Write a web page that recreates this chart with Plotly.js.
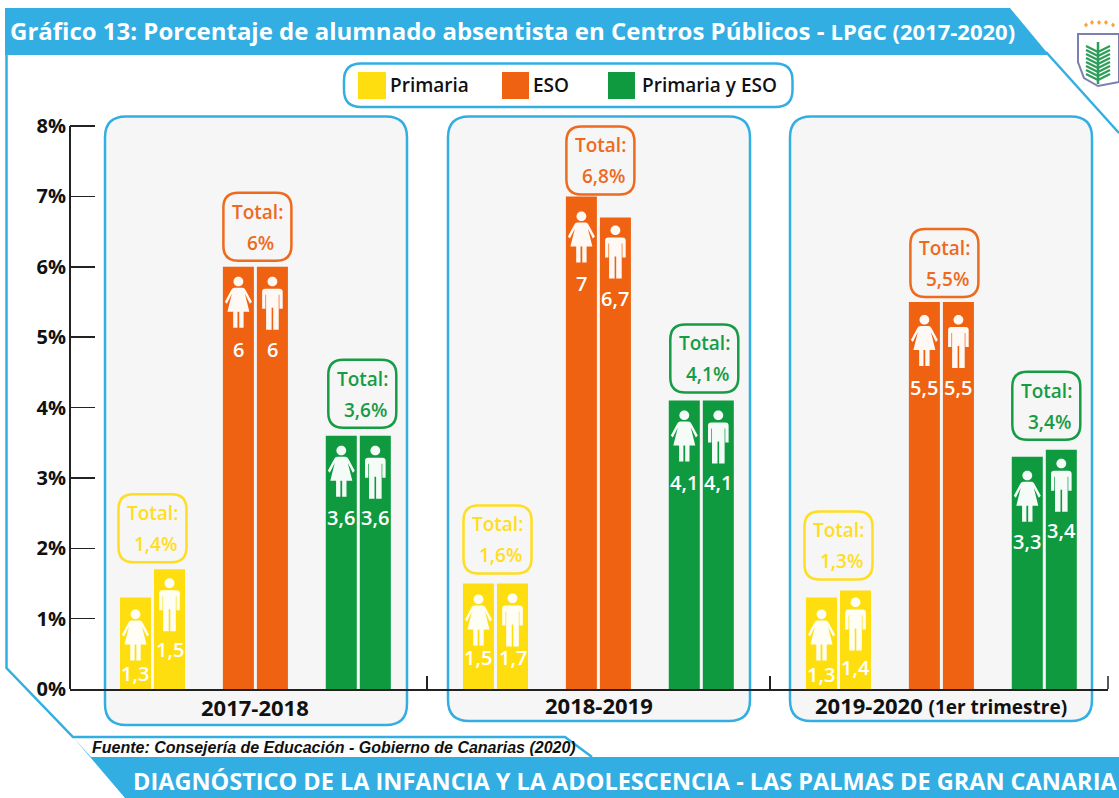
<!DOCTYPE html>
<html lang="es">
<head>
<meta charset="utf-8">
<script src="https://cdn.plot.ly/plotly-3.0.1.min.js"></script>
<style>html,body{margin:0;padding:0;background:#fff}#chart{width:1119px;height:798px}</style>
</head>
<body>
<div id="chart"></div>
<script>
// ---------- data ----------
const years = ['2017-2018', '2018-2019', '2019-2020 <span style="font-size:19px">(1er trimestre)</span>'];
const levels = ['Primaria', 'ESO', 'Primaria y ESO'];
const primariaMujeres = [1.3, 1.5, 1.3];
const primariaHombres = [1.7, 1.5, 1.4];
const esoMujeres = [6, 7, 5.5];
const esoHombres = [6, 6.7, 5.5];
const ambosMujeres = [3.6, 4.1, 3.3];
const ambosHombres = [3.6, 4.1, 3.4];
const primariaMujeresLabels = ['1,3', '1,5', '1,3'];
const primariaHombresLabels = ['1,5', '1,7', '1,4'];
const esoMujeresLabels = ['6', '7', '5,5'];
const esoHombresLabels = ['6', '6,7', '5,5'];
const ambosMujeresLabels = ['3,6', '4,1', '3,3'];
const ambosHombresLabels = ['3,6', '4,1', '3,4'];
const primariaTotals = ['1,4%', '1,6%', '1,3%'];
const esoTotals = ['6%', '6,8%', '5,5%'];
const ambosTotals = ['3,6%', '4,1%', '3,4%'];
const yTicks = [0, 1, 2, 3, 4, 5, 6, 7, 8];
const yTickLabels = ['0%', '1%', '2%', '3%', '4%', '5%', '6%', '7%', '8%'];

// ---------- styling / layout constants ----------
const BLUE = '#33AEE3', YELLOW = '#FFDE10', ORANGE = '#EE6211', GREEN = '#0F9A40', PANEL = '#F6F6F6', INK = '#111111';
const levelColors = [YELLOW, ORANGE, GREEN];
const boxColors = ['#FFDD22', '#EE6A1E', '#169C45'];
const FONT = '"Open Sans", "Noto Sans", sans-serif';
const W = 1119, H = 798, L = 70, R = 1108, T = 119, B = 689;
const U = 34.3, X0 = 152.5;              // px per x unit, px of first slot
const GROUP_STEP = 10, LEVEL_STEP = 3;
const BAR_W = 0.904, OFF_F = -0.948, OFF_M = 0.044;
const slot = (g, l) => g * GROUP_STEP + l * LEVEL_STEP;
const px = X => (X - L) / (R - L);
const py = Y => (B - Y) / (B - T);

const series = [
  {name: levels[0], l: 0, f: primariaMujeres, m: primariaHombres, fl: primariaMujeresLabels, ml: primariaHombresLabels, tot: primariaTotals},
  {name: levels[1], l: 1, f: esoMujeres, m: esoHombres, fl: esoMujeresLabels, ml: esoHombresLabels, tot: esoTotals},
  {name: levels[2], l: 2, f: ambosMujeres, m: ambosHombres, fl: ambosMujeresLabels, ml: ambosHombresLabels, tot: ambosTotals}
];

// per-level, per-year pixel placement of decorations relative to bar tops
const labelDropF = [[76, 74, 77], [83, 87, 86], [82, 82, 85]];
const labelDropM = [[80, 74, 77], [83, 81, 86], [82, 82, 81]];
const iconDropF = [[12, 11, 12], [10, 15, 13], [10, 10, 14]];
const iconDropM = [[9, 10, 7], [10, 8, 13], [10, 10, 9]];
const boxGap = [[7, 10, 11], [6, 2, 5], [8, 8, 10]];
const boxShift = [[0, 2, 0], [2, 2, 3], [4, 3, 2]];

const traces = [];
series.forEach(s => {
  const xs = years.map((_, g) => slot(g, s.l));
  traces.push({type: 'bar', name: s.name + ' - Mujeres', x: xs, y: s.f, width: BAR_W, offset: OFF_F,
    marker: {color: levelColors[s.l], line: {width: 0}}, showlegend: false});
  traces.push({type: 'bar', name: s.name + ' - Hombres', x: xs, y: s.m, width: BAR_W, offset: OFF_M,
    marker: {color: levelColors[s.l], line: {width: 0}}, showlegend: false});
});

// ---------- shapes ----------
const shapes = [];
const ann = [];

// shape positioned in absolute page pixels
function pagePath(fn, opts) {
  const map = (X, Y) => (X - L).toFixed(1) + ',' + (T - Y).toFixed(1);
  shapes.push(Object.assign({type: 'path', xref: 'paper', yref: 'paper', xsizemode: 'pixel', ysizemode: 'pixel',
    xanchor: 0, yanchor: 1, path: fn(map), layer: 'below', line: {width: 0}}, opts));
}
function roundRect(x0, y0, x1, y1, r, opts) {
  pagePath(m => 'M' + m(x0 + r, y0) + ' L' + m(x1 - r, y0) + ' Q' + m(x1, y0) + ' ' + m(x1, y0 + r) +
    ' L' + m(x1, y1 - r) + ' Q' + m(x1, y1) + ' ' + m(x1 - r, y1) + ' L' + m(x0 + r, y1) +
    ' Q' + m(x0, y1) + ' ' + m(x0, y1 - r) + ' L' + m(x0, y0 + r) + ' Q' + m(x0, y0) + ' ' + m(x0 + r, y0) + ' Z', opts);
}
function poly(points, opts, close) {
  pagePath(m => points.map((p, i) => (i ? 'L' : 'M') + m(p[0], p[1])).join(' ') + (close ? ' Z' : ''), opts);
}

// frame and banners
poly([[6.5, 50], [6.5, 668], [73, 737], [565, 737], [592, 757]], {line: {color: BLUE, width: 2.5}});
poly([[1046, 52], [1119, 133]], {line: {color: BLUE, width: 2.5}});
poly([[5, 8], [1010, 8], [1049, 55], [5, 55]], {fillcolor: BLUE}, true);
poly([[73, 737], [125, 798], [1119, 798], [1119, 757], [91, 757]], {fillcolor: BLUE}, true);

// legend box
roundRect(344, 63.5, 792.5, 107, 17, {fillcolor: '#fff', line: {color: BLUE, width: 2.5}});
[[358, 386], [502, 529], [608, 635]].forEach((sw, i) =>
  poly([[sw[0], 72], [sw[1], 72], [sw[1], 99], [sw[0], 99]], {fillcolor: levelColors[i]}, true));
[[388, 0], [531, 1], [640, 2]].forEach(a => ann.push({xref: 'paper', yref: 'paper', x: px(a[0]), y: py(85), xanchor: 'left', yanchor: 'middle',
  text: levels[a[1]], showarrow: false, font: {family: FONT, size: 19, color: INK, weight: 600}}));

// year panels
[[105, 407, 725], [448, 750, 721], [790, 1092, 721]].forEach(p =>
  roundRect(p[0], 116.5, p[1], p[2], 21, {fillcolor: PANEL, line: {color: BLUE, width: 2.5}}));

// y axis line from 0 to 8 through the library's scale
shapes.push({type: 'line', xref: 'paper', yref: 'y', x0: 0, x1: 0, y0: yTicks[0], y1: yTicks[yTicks.length - 1],
  line: {color: '#222', width: 2}, layer: 'above'});
// closing tick at the right end of the x axis
shapes.push({type: 'line', xref: 'paper', yref: 'y', ysizemode: 'pixel', yanchor: 0, x0: 1, x1: 1, y0: 0, y1: 13,
  line: {color: '#222', width: 1.5}, layer: 'above'});

// icons, anchored on the data scale
const womanPath = 'M-4,-11 L4,-11 Q6,-11 7,-13 L13.5,-25 L11.5,-27 L6.5,-17 L11,-35 L5.2,-35 L5.2,-51 L0.9,-51 L0.9,-35 L-0.9,-35 L-0.9,-51 L-5.2,-51 L-5.2,-35 L-11,-35 L-6.5,-17 L-11.5,-27 L-13.5,-25 L-7,-13 Q-6,-11 -4,-11 Z';
const manPath = 'M-7,-12 L7,-12 Q10.3,-12 10.3,-15 L10.3,-32 L7,-32 L7,-18 L6.3,-18 L6.3,-53 L0.8,-53 L0.8,-31 L-0.8,-31 L-0.8,-53 L-6.3,-53 L-6.3,-18 L-7,-18 L-7,-32 L-10.3,-32 L-10.3,-15 Q-10.3,-12 -7,-12 Z';
const headPath = 'M0,0 C2.7,0 4.9,-2.1 4.9,-4.8 C4.9,-7.5 2.7,-9.6 0,-9.6 C-2.7,-9.6 -4.9,-7.5 -4.9,-4.8 C-4.9,-2.1 -2.7,0 0,0 Z';
function icon(path, xc, v, drop) {
  const shift = d => d.replace(/(-?\d+(?:\.\d+)?),(-?\d+(?:\.\d+)?)/g, (m, a, b) => a + ',' + (+b - drop));
  [shift(path), shift(headPath)].forEach(d =>
    shapes.push({type: 'path', xref: 'x', yref: 'y', xsizemode: 'pixel', ysizemode: 'pixel', xanchor: xc, yanchor: v,
      path: d, fillcolor: '#FFFFFF', opacity: 0.96, line: {width: 0}, layer: 'above'}));
}

series.forEach((s, li) => {
  years.forEach((_, g) => {
    const c = slot(g, s.l);
    const cF = c + OFF_F + BAR_W / 2, cM = c + OFF_M + BAR_W / 2;
    icon(womanPath, cF, s.f[g], iconDropF[li][g]);
    icon(manPath, cM, s.m[g], iconDropM[li][g]);
    const labelFont = {family: FONT, size: 20, color: '#FFFFFF', weight: 600};
    ann.push({x: cF, y: s.f[g], yshift: -labelDropF[li][g], xanchor: 'center', text: s.fl[g], showarrow: false, yanchor: 'middle', font: labelFont});
    ann.push({x: cM, y: s.m[g], yshift: -labelDropM[li][g], xanchor: 'center', text: s.ml[g], showarrow: false, yanchor: 'middle', font: labelFont});
    // Total callout
    const top = Math.max(s.f[g], s.m[g]);
    const gap = boxGap[li][g], sh = boxShift[li][g], r = 15, hw = 34, h = 68;
    const yb = gap, yt = gap + h, xl = sh - hw, xr = sh + hw;
    shapes.push({type: 'path', xref: 'x', yref: 'y', xsizemode: 'pixel', ysizemode: 'pixel', xanchor: c, yanchor: top,
      path: `M${xl + r},${yb} L${xr - r},${yb} Q${xr},${yb} ${xr},${yb + r} L${xr},${yt - r} Q${xr},${yt} ${xr - r},${yt} L${xl + r},${yt} Q${xl},${yt} ${xl},${yt - r} L${xl},${yb + r} Q${xl},${yb} ${xl + r},${yb} Z`,
      line: {color: boxColors[li], width: 2.5}, fillcolor: 'rgba(0,0,0,0)', layer: 'above'});
    const boxFont = {family: FONT, size: 19, color: boxColors[li], weight: 600};
    ann.push({x: c, xshift: sh, y: top, yshift: yt - 19, xanchor: 'center', text: 'Total:', showarrow: false, yanchor: 'middle', font: boxFont});
    ann.push({x: c, xshift: sh + 3, y: top, yshift: yt - 50, xanchor: 'center', text: s.tot[g], showarrow: false, yanchor: 'middle', font: boxFont});
  });
});

// group labels
const yearLabelY = [707, 705, 705];
const yearLabelX = [255, 598.5, 941];
years.forEach((t, g) => ann.push({xref: 'paper', yref: 'paper', x: px(yearLabelX[g]), y: py(yearLabelY[g]), xanchor: 'center', text: t, showarrow: false,
  yanchor: 'middle', font: {family: FONT, size: 22, color: INK, weight: 700}}));

// header / footer text
ann.push({xref: 'paper', yref: 'paper', x: px(8), y: py(31), xanchor: 'left', yanchor: 'middle', showarrow: false,
  text: 'Gráfico 13: Porcentaje de alumnado absentista en Centros Públicos - <span style="font-size:22px">LPGC (2017-2020)</span>',
  font: {family: FONT, size: 24, color: '#FFFFFF', weight: 700}});
ann.push({xref: 'paper', yref: 'paper', x: px(90), y: py(747.5), xanchor: 'left', yanchor: 'middle', showarrow: false,
  text: '<b><i>Fuente: Consejería de Educación - Gobierno de Canarias (2020)</i></b>',
  font: {family: '"Liberation Sans", Arial, sans-serif', size: 16, color: INK}});
ann.push({xref: 'paper', yref: 'paper', x: px(131), y: py(780.5), xanchor: 'left', yanchor: 'middle', showarrow: false,
  text: 'DIAGNÓSTICO DE LA INFANCIA Y LA ADOLESCENCIA - LAS PALMAS DE GRAN CANARIA',
  font: {family: FONT, size: 23.5, color: '#FFFFFF', weight: 700}});

// emblem at the top right
poly([[1078, 34], [1119, 34], [1119, 82], [1098, 86], [1084, 78], [1078, 62]], {fillcolor: '#FFFFFF', line: {color: '#7D7FB0', width: 2}}, true);
poly([[1098, 42], [1098, 84]], {line: {color: '#2E9E5B', width: 2.5}});
[46, 50, 54, 58, 62, 66, 70, 74].forEach(y => {
  poly([[1098, y + 6], [1086, y]], {line: {color: '#2E9E5B', width: 2.2}});
  poly([[1098, y + 6], [1110, y]], {line: {color: '#2E9E5B', width: 2.2}});
});
[1086, 1092, 1099, 1106, 1113].forEach((x, i) => {
  const y = i === 0 || i === 4 ? 25 : 22.5;
  poly([[x - 2, y], [x, y - 2.5], [x + 2, y], [x, y + 2.5]], {fillcolor: '#F4A340'}, true);
});

const layout = {
  width: W, height: H,
  margin: {l: L, r: W - R, t: T, b: H - B, pad: 0},
  paper_bgcolor: '#FFFFFF', plot_bgcolor: 'rgba(0,0,0,0)',
  barmode: 'overlay', showlegend: false, hovermode: false,
  xaxis: {range: [(L - X0) / U, (R - X0) / U], tickmode: 'array', tickvals: [8, 18], ticks: 'inside', ticklen: 13, tickwidth: 1.5,
    tickcolor: '#222', showticklabels: false, showgrid: false, zeroline: false, showline: true, linecolor: '#222', linewidth: 1.5},
  yaxis: {range: [0, (B - T) / 70.375], tickmode: 'array', tickvals: yTicks, ticktext: yTickLabels, ticks: 'inside', ticklen: 25, tickwidth: 1.5,
    tickcolor: '#222', showgrid: false, zeroline: false, showline: false, ticklabelstandoff: 3,
    tickfont: {family: FONT, size: 20, color: INK, weight: 700}},
  shapes: shapes, annotations: ann
};
Plotly.newPlot('chart', traces, layout, {displayModeBar: false, staticPlot: true});
</script>
</body>
</html>
